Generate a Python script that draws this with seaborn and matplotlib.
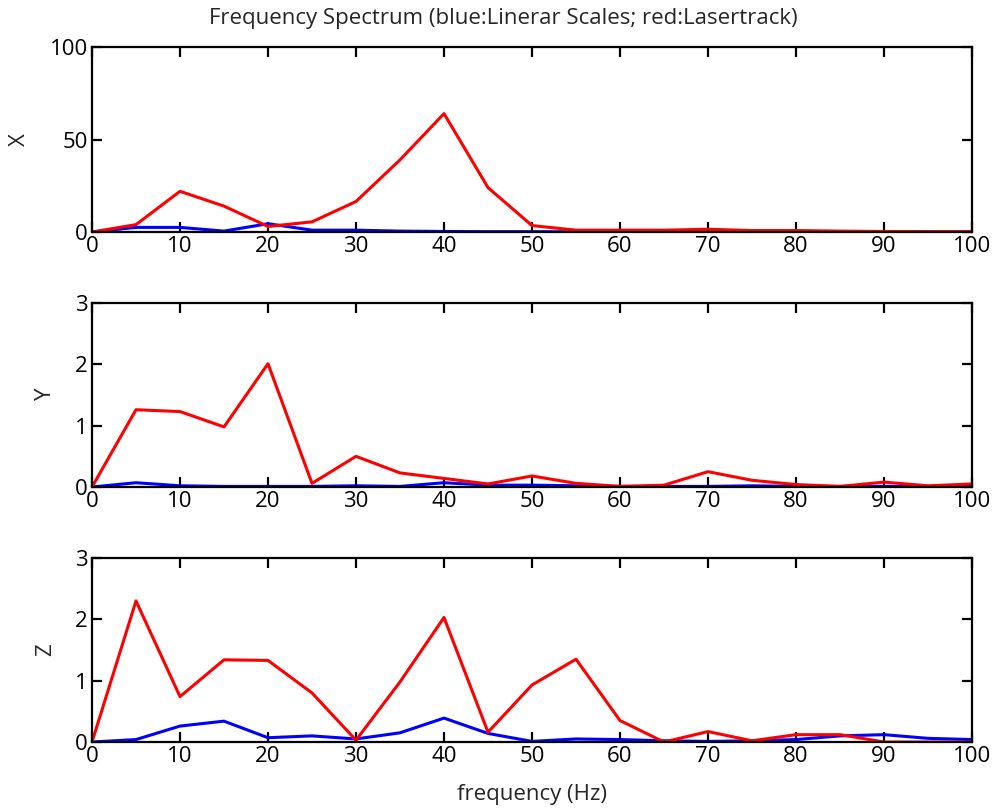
"""Frequency spectrum comparison: Linear Scales (blue) vs Lasertrack (red)."""

import matplotlib

matplotlib.use("Agg")
import matplotlib.pyplot as plt
import pandas as pd
import seaborn as sns


FREQ = [0, 5, 10, 15, 20, 25, 30, 35, 40, 45, 50,
        55, 60, 65, 70, 75, 80, 85, 90, 95, 100]

X_LINEAR = [0, 2.5, 2.5, 0.5, 4.5, 1.0, 1.0, 0.5, 0.3, 0.2, 0.2,
            0.1, 0.1, 0.1, 0.1, 0.1, 0.1, 0.1, 0.1, 0.1, 0.1]
X_LASER = [0, 4.0, 22.0, 14.0, 3.0, 5.5, 16.5, 39.0, 64.0, 24.0, 3.5,
           1.0, 1.0, 1.0, 1.5, 0.8, 0.8, 0.5, 0.3, 0.2, 0.2]

Y_LINEAR = [0, 0.07, 0.02, 0.01, 0.01, 0.01, 0.02, 0.01, 0.07, 0.03, 0.03,
            0.02, 0.01, 0.01, 0.01, 0.02, 0.01, 0.01, 0.01, 0.01, 0.01]
Y_LASER = [0, 1.26, 1.23, 0.98, 2.01, 0.06, 0.50, 0.23, 0.14, 0.05, 0.18,
           0.06, 0.01, 0.03, 0.25, 0.11, 0.04, 0.01, 0.08, 0.02, 0.05]

Z_LINEAR = [0, 0.04, 0.26, 0.34, 0.07, 0.10, 0.05, 0.15, 0.39, 0.14, 0.01,
            0.05, 0.04, 0.02, 0.01, 0.02, 0.04, 0.10, 0.12, 0.06, 0.04]
Z_LASER = [0, 2.30, 0.74, 1.34, 1.33, 0.80, 0.03, 0.98, 2.03, 0.16, 0.93,
           1.35, 0.35, 0.00, 0.17, 0.02, 0.12, 0.12, 0.00, 0.00, 0.00]

PANELS = [
    ("X", X_LINEAR, X_LASER, [0, 50, 100]),
    ("Y", Y_LINEAR, Y_LASER, [0, 1, 2, 3]),
    ("Z", Z_LINEAR, Z_LASER, [0, 1, 2, 3]),
]
X_TICKS = list(range(0, 101, 10))

# pixel-derived axes boxes: [left, bottom, width, height]
BOXES = [
    [0.092, 0.7132, 0.880, 0.2287],
    [0.092, 0.3980, 0.880, 0.2275],
    [0.092, 0.0828, 0.880, 0.2275],
]

FONT_SIZE = 16

sns.set_style("ticks")
plt.rcParams.update(
    {
        "font.family": ["Open Sans", "DejaVu Sans"],
        "font.size": FONT_SIZE,
        "axes.linewidth": 1.6,
        "xtick.direction": "in",
        "ytick.direction": "in",
        "xtick.major.size": 7,
        "ytick.major.size": 7,
        "xtick.major.width": 1.6,
        "ytick.major.width": 1.6,
        "xtick.top": True,
        "ytick.right": True,
        "xtick.color": "black",
        "ytick.color": "black",
        "axes.edgecolor": "black",
    }
)

fig = plt.figure(figsize=(10, 8.09), dpi=100)

for box, (name, linear, laser, yticks) in zip(BOXES, PANELS):
    ax = fig.add_axes(box)
    df = pd.DataFrame({"freq": FREQ, "linear": linear, "laser": laser})
    sns.lineplot(data=df, x="freq", y="linear", color="#0000FF", linewidth=2.2, ax=ax)
    sns.lineplot(data=df, x="freq", y="laser", color="#FF0000", linewidth=2.2, ax=ax)
    ax.set_xlim(0, 100)
    ax.set_ylim(yticks[0], yticks[-1])
    ax.set_xticks(X_TICKS)
    ax.set_yticks(yticks)
    ax.set_xlabel("")
    ax.set_ylabel(name, fontsize=FONT_SIZE, labelpad=14)
    ax.tick_params(axis="both", labelsize=FONT_SIZE, pad=3)
    for spine in ax.spines.values():
        spine.set_visible(True)
        spine.set_linewidth(1.6)

fig.axes[-1].set_xlabel("frequency (Hz)", fontsize=FONT_SIZE, labelpad=12)
fig.text(0.503, 0.977, "Frequency Spectrum (blue:Linerar Scales; red:Lasertrack)",
         ha="center", va="center", fontsize=FONT_SIZE)

fig.savefig("out.png", dpi=100, facecolor="white")
